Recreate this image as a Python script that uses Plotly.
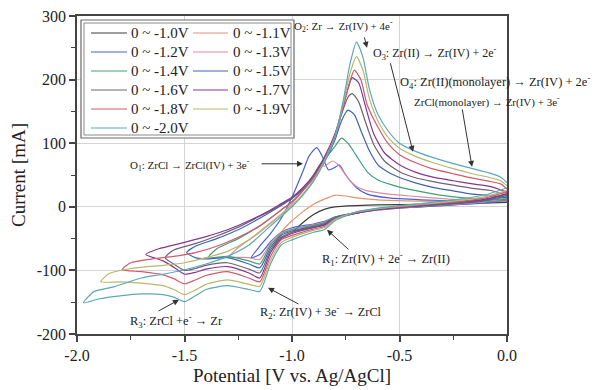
import plotly.graph_objects as go

# ---------------- data ----------------
legend_labels = ["0 ~ -1.0V", "0 ~ -1.1V", "0 ~ -1.2V", "0 ~ -1.3V", "0 ~ -1.4V", "0 ~ -1.5V",
                 "0 ~ -1.6V", "0 ~ -1.7V", "0 ~ -1.8V", "0 ~ -1.9V", "0 ~ -2.0V"]
colors = ["#3c3c3c", "#e8916a", "#4b5fd6", "#d98e9b", "#3f9f78", "#4065b0",
          "#6e6276", "#86378f", "#d05a6e", "#b8b86c", "#5ca8b8"]

pot_10 = [0.0, -0.1, -0.2, -0.3, -0.4, -0.5, -0.6, -0.7, -0.8, -0.85, -0.9, -0.99, -0.95, -0.9, -0.85, -0.8, -0.7, -0.6, -0.4, -0.2, 0.0]
cur_10 = [12, 8, 5, 3, 1, -1, -4, -9, -17, -25, -29, -38, -25, -12, -4, 0, 2, 3, 4, 5, 7]

pot_11 = [0.0, -0.1, -0.2, -0.3, -0.4, -0.5, -0.6, -0.7, -0.8, -0.85, -0.9, -1.0, -1.05, -1.09, -1.05, -1.0, -0.95, -0.9, -0.85, -0.8, -0.75, -0.7, -0.6, -0.4, -0.2, 0.0]
cur_11 = [11, 7, 4, 2, 0, -2, -5, -10, -18, -26, -30, -40, -48, -65, -40, -22, -8, 4, 12, 18, 17, 14, 11, 9, 8, 9]

pot_12 = [0.0, -0.1, -0.2, -0.3, -0.4, -0.5, -0.6, -0.7, -0.8, -0.85, -0.9, -1.0, -1.05, -1.1, -1.15, -1.19, -1.15, -1.1, -1.05, -1.0, -0.95, -0.92, -0.885, -0.86, -0.83, -0.8, -0.78, -0.75, -0.7, -0.65, -0.55, -0.4, -0.2, 0.0]
cur_12 = [10, 6, 4, 2, 0, -2, -5, -10, -16, -23, -27, -33, -40, -55, -75, -80, -62, -42, -18, 15, 55, 80, 93, 80, 58, 62, 66, 50, 30, 20, 14, 11, 9, 8]

pot_13 = [0.0, -0.1, -0.2, -0.3, -0.4, -0.5, -0.6, -0.7, -0.8, -0.85, -0.9, -1.0, -1.05, -1.1, -1.15, -1.2, -1.29, -1.25, -1.15, -1.05, -1.0, -0.95, -0.9, -0.87, -0.85, -0.81, -0.78, -0.74, -0.7, -0.65, -0.55, -0.45, -0.3, -0.15, 0.0]
cur_13 = [14, 8, 5, 3, 1, -1, -4, -9, -16, -24, -28, -35, -41, -57, -83, -80, -78, -64, -40, -12, 5, 25, 50, 66, 64, 72, 64, 45, 32, 25, 20, 17, 13, 10, 9]

pot_14 = [0.0, -0.1, -0.2, -0.3, -0.4, -0.5, -0.6, -0.7, -0.8, -0.85, -0.9, -1.0, -1.05, -1.1, -1.15, -1.2, -1.3, -1.39, -1.35, -1.25, -1.15, -1.05, -1.0, -0.95, -0.9, -0.87, -0.84, -0.8, -0.77, -0.74, -0.7, -0.65, -0.6, -0.5, -0.4, -0.3, -0.2, -0.1, 0.0]
cur_14 = [16, 9, 6, 3, 1, -1, -4, -9, -16, -25, -29, -36, -43, -60, -90, -85, -78, -80, -66, -50, -30, -5, 8, 25, 48, 66, 78, 95, 108, 100, 80, 55, 42, 31, 24, 18, 14, 12, 10]

pot_15 = [0.0, -0.1, -0.2, -0.3, -0.4, -0.5, -0.6, -0.7, -0.8, -0.85, -0.9, -1.0, -1.05, -1.1, -1.15, -1.2, -1.3, -1.4, -1.45, -1.49, -1.45, -1.35, -1.25, -1.15, -1.05, -1.0, -0.95, -0.9, -0.85, -0.8, -0.77, -0.74, -0.71, -0.68, -0.64, -0.6, -0.55, -0.5, -0.43, -0.35, -0.25, -0.16, -0.08, 0.0]
cur_15 = [18, 10, 6, 4, 2, 0, -3, -9, -17, -27, -31, -38, -45, -64, -96, -90, -80, -82, -80, -72, -62, -50, -36, -18, 2, 13, 27, 45, 70, 105, 135, 152, 145, 120, 88, 66, 54, 46, 38, 31, 25, 20, 18, 14]

pot_16 = [0.0, -0.1, -0.2, -0.3, -0.4, -0.5, -0.6, -0.7, -0.8, -0.85, -0.9, -1.0, -1.05, -1.1, -1.15, -1.2, -1.3, -1.4, -1.45, -1.5, -1.55, -1.59, -1.55, -1.45, -1.35, -1.25, -1.15, -1.05, -1.0, -0.95, -0.9, -0.85, -0.8, -0.77, -0.74, -0.72, -0.69, -0.66, -0.62, -0.57, -0.5, -0.43, -0.35, -0.25, -0.16, -0.08, 0.0]
cur_16 = [20, 11, 7, 4, 2, -1, -4, -10, -18, -28, -32, -40, -48, -68, -104, -98, -88, -92, -97, -100, -90, -80, -68, -58, -46, -32, -15, 3, 14, 28, 48, 75, 110, 145, 172, 178, 165, 135, 98, 72, 55, 46, 40, 34, 29, 26, 18]

pot_17 = [0.0, -0.1, -0.2, -0.3, -0.4, -0.5, -0.6, -0.7, -0.8, -0.85, -0.9, -1.0, -1.05, -1.1, -1.15, -1.2, -1.3, -1.4, -1.45, -1.5, -1.55, -1.6, -1.68, -1.62, -1.5, -1.4, -1.3, -1.2, -1.1, -1.05, -1.0, -0.95, -0.9, -0.85, -0.8, -0.76, -0.74, -0.72, -0.69, -0.66, -0.62, -0.57, -0.5, -0.43, -0.35, -0.25, -0.16, -0.08, 0.0]
cur_17 = [22, 12, 8, 5, 2, -1, -4, -10, -19, -29, -33, -42, -50, -72, -112, -104, -94, -98, -103, -106, -95, -85, -75, -66, -56, -47, -36, -22, -5, 5, 15, 30, 50, 78, 115, 160, 185, 203, 195, 160, 115, 85, 66, 55, 47, 41, 36, 32, 22]

pot_18 = [0.0, -0.1, -0.2, -0.3, -0.4, -0.5, -0.6, -0.7, -0.8, -0.85, -0.9, -1.0, -1.05, -1.1, -1.15, -1.2, -1.3, -1.4, -1.45, -1.5, -1.55, -1.6, -1.7, -1.79, -1.75, -1.65, -1.55, -1.45, -1.35, -1.25, -1.15, -1.05, -1.0, -0.95, -0.9, -0.85, -0.8, -0.76, -0.73, -0.71, -0.68, -0.65, -0.6, -0.55, -0.5, -0.43, -0.35, -0.25, -0.16, -0.08, -0.03, 0.0]
cur_18 = [24, 14, 9, 6, 3, 0, -3, -9, -19, -31, -35, -45, -52, -78, -118, -112, -102, -108, -115, -121, -113, -107, -102, -99, -88, -82, -78, -72, -62, -48, -30, -5, 8, 25, 45, 72, 110, 160, 198, 215, 200, 160, 125, 98, 82, 70, 60, 52, 45, 40, 36, 28]

pot_19 = [0.0, -0.1, -0.2, -0.3, -0.4, -0.5, -0.6, -0.7, -0.8, -0.85, -0.9, -1.0, -1.05, -1.1, -1.15, -1.2, -1.3, -1.4, -1.45, -1.5, -1.55, -1.6, -1.7, -1.8, -1.89, -1.85, -1.75, -1.6, -1.5, -1.4, -1.3, -1.2, -1.1, -1.0, -0.95, -0.9, -0.85, -0.8, -0.76, -0.73, -0.70, -0.67, -0.64, -0.6, -0.55, -0.5, -0.43, -0.35, -0.25, -0.16, -0.08, -0.03, 0.0]
cur_19 = [26, 16, 11, 7, 4, 1, -3, -8, -20, -33, -37, -48, -56, -84, -125, -122, -115, -122, -131, -138, -130, -124, -120, -118, -118, -105, -97, -92, -88, -80, -70, -52, -25, 2, 20, 42, 72, 110, 165, 210, 236, 215, 170, 135, 108, 92, 80, 70, 60, 52, 46, 41, 33]

pot_20 = [0.0, -0.05, -0.1, -0.2, -0.3, -0.4, -0.5, -0.6, -0.7, -0.8, -0.85, -0.9, -1.0, -1.05, -1.1, -1.15, -1.2, -1.3, -1.4, -1.45, -1.5, -1.55, -1.6, -1.7, -1.8, -1.9, -1.97, -1.92, -1.83, -1.7, -1.6, -1.5, -1.4, -1.3, -1.2, -1.1, -1.0, -0.95, -0.9, -0.85, -0.8, -0.76, -0.73, -0.70, -0.67, -0.64, -0.6, -0.55, -0.5, -0.43, -0.35, -0.25, -0.16, -0.08, -0.03, 0.0]
cur_20 = [30, 24, 19, 13, 9, 5, 2, -2, -8, -22, -36, -40, -52, -60, -90, -133, -130, -124, -130, -140, -149, -142, -138, -137, -140, -145, -151, -133, -126, -112, -106, -99, -90, -78, -60, -30, 0, 18, 40, 70, 110, 170, 225, 259, 235, 185, 145, 118, 100, 88, 78, 68, 60, 53, 47, 38]

potentials = [pot_10, pot_11, pot_12, pot_13, pot_14, pot_15, pot_16, pot_17, pot_18, pot_19, pot_20]
currents = [cur_10, cur_11, cur_12, cur_13, cur_14, cur_15, cur_16, cur_17, cur_18, cur_19, cur_20]

x_ticks = [-2.0, -1.5, -1.0, -0.5, 0.0]
x_ticklabels = ["-2.0", "-1.5", "-1.0", "-0.5", "0.0"]
y_ticks = [-200, -100, 0, 100, 200, 300]
y_ticklabels = ["-200", "-100", "0", "100", "200", "300"]

# ---------------- figure ----------------
# the page adds an 8px body margin, so the figure is made 8px smaller
OFF = 8
W, H = 599 - OFF, 390 - OFF
PL, PR, PT, PB = 77, 507, 16, 334          # plot area in page pixels
ML, MT = PL - OFF, PT - OFF
MR, MB = (W + OFF) - PR, (H + OFF) - PB
PW, PH = PR - PL, PB - PT
SERIF = "Liberation Serif, Times New Roman, serif"


def px(xp):
    return (xp - PL) / PW


def py(yp):
    return (PB - yp) / PH


fig = go.Figure()
for lab, col, v, i in zip(legend_labels, colors, potentials, currents):
    fig.add_trace(go.Scatter(x=v, y=i, mode="lines", name=lab, showlegend=False,
                             line=dict(color=col, width=1.2, shape="spline", smoothing=0.6)))

shapes = []
annotations = []

# legend box (double border)
shapes.append(dict(type="rect", xref="paper", yref="paper", x0=px(81), x1=px(294), y0=py(138), y1=py(20),
                   line=dict(color="#6a6a6a", width=1.2), fillcolor="white", layer="above"))
shapes.append(dict(type="rect", xref="paper", yref="paper", x0=px(84), x1=px(291), y0=py(135), y1=py(23),
                   line=dict(color="#8a8a8a", width=1), layer="above"))
for k, (lab, col) in enumerate(zip(legend_labels, colors)):
    row, c = k // 2, k % 2
    yy = 33 + 19 * row
    lx0, lx1, tx = (91, 127, 129) if c == 0 else (193, 228, 231)
    shapes.append(dict(type="line", xref="paper", yref="paper", x0=px(lx0), x1=px(lx1), y0=py(yy), y1=py(yy),
                       line=dict(color=col, width=1.1), layer="above"))
    annotations.append(dict(xref="paper", yref="paper", x=px(tx), y=py(yy), text=lab, showarrow=False,
                            xanchor="left", yanchor="middle", font=dict(family=SERIF, size=15, color="#222")))


def dx(xp):
    return (xp - 507) / 215.0


def dy(yp):
    return (207 - yp) / 0.636


# reaction labels: text, centre x, centre y (page px), font size
labels = [
    ("O<sub>2</sub>: Zr → Zr(IV) + 4e<sup>-</sup>", 343, 26, 11),
    ("O<sub>3</sub>: Zr(II) → Zr(IV) + 2e<sup>-</sup>", 435, 54, 12),
    ("O<sub>4</sub>: Zr(II)(monolayer) → Zr(IV) + 2e<sup>-</sup>", 495, 82, 12.5),
    ("ZrCl(monolayer) → Zr(IV) + 3e<sup>-</sup>", 487, 101, 11),
    ("O<sub>1</sub>: ZrCl → ZrCl(IV) + 3e<sup>-</sup>", 190, 165, 11),
    ("R<sub>1</sub>: Zr(IV) + 2e<sup>-</sup> → Zr(II)", 386, 259, 12.5),
    ("R<sub>2</sub>: Zr(IV) + 3e<sup>-</sup> → ZrCl", 321, 312, 12.3),
    ("R<sub>3</sub>: ZrCl +e<sup>-</sup> → Zr", 176, 321, 12.5),
]
for t, xp_, yp_, fs in labels:
    annotations.append(dict(xref="paper", yref="paper", x=px(xp_), y=py(yp_), text=t, showarrow=False,
                            xanchor="center", yanchor="middle",
                            font=dict(family=SERIF, size=fs, color="#222")))

arrows = [
    ((260, 164), (303, 164)),
    ((364, 36), (367, 48)),
    ((390, 62), (413, 152)),
    ((462, 108), (472, 167)),
    ((350, 251), (327, 230)),
    ((300, 305), (268, 288)),
    ((157, 312), (179, 300)),
]
for (tx_, ty_), (hx, hy) in arrows:
    annotations.append(dict(x=dx(hx), y=dy(hy), ax=dx(tx_), ay=dy(ty_), xref="x", yref="y",
                            axref="x", ayref="y", text="", showarrow=True, arrowhead=2,
                            arrowsize=1.2, arrowwidth=1, arrowcolor="#333"))

axis_common = dict(showline=True, mirror=True, linecolor="#444", linewidth=1.5,
                   ticks="outside", ticklen=6, tickwidth=1.5, tickcolor="#444",
                   showgrid=True, gridcolor="#d4d4d4", gridwidth=1, zeroline=False,
                   automargin=False, ticklabeloverflow="allow",
                   tickfont=dict(family=SERIF, size=16, color="#222"))

fig.update_layout(
    width=W, height=H,
    margin=dict(l=ML, r=MR, t=MT, b=MB, autoexpand=False),
    paper_bgcolor="white", plot_bgcolor="white",
    showlegend=False,
    shapes=shapes, annotations=annotations,
    xaxis=dict(range=[-2.0, 0.0], tickvals=x_ticks, ticktext=x_ticklabels,
               minor=dict(ticks="outside", ticklen=4, tickwidth=1.2, tickcolor="#444", dtick=0.25, showgrid=False),
               title=dict(text="Potential [V vs. Ag/AgCl]", font=dict(family=SERIF, size=19, color="#222"), standoff=6),
               **axis_common),
    yaxis=dict(range=[-200, 300], tickvals=y_ticks, ticktext=y_ticklabels,
               minor=dict(ticks="outside", ticklen=4, tickwidth=1.2, tickcolor="#444", dtick=50, showgrid=False),
               title=dict(text="Current [mA]", font=dict(family=SERIF, size=19, color="#222"), standoff=6),
               **axis_common),
)

fig.write_html("out.html")
